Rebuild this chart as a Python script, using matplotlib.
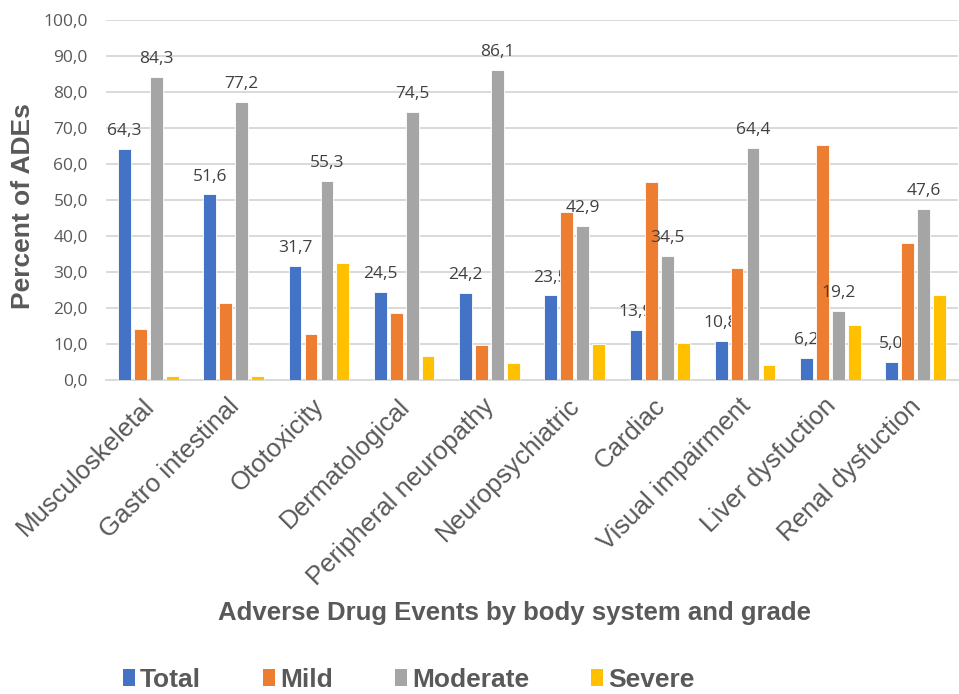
import numpy as np
import matplotlib.pyplot as plt
from matplotlib.patches import Patch

plt.rcParams['font.family'] = ['Liberation Sans', 'DejaVu Sans']

categories = ["Musculoskeletal", "Gastro intestinal", "Ototoxicity", "Dermatological",
              "Peripheral neuropathy", "Neuropsychiatric", "Cardiac", "Visual impairment",
              "Liver dysfuction", "Renal dysfuction"]
total = [64.3, 51.6, 31.7, 24.5, 24.2, 23.5, 13.9, 10.8, 6.2, 5.0]
mild = [14.1, 21.3, 12.8, 18.5, 9.7, 46.8, 55.1, 31.0, 65.3, 38.0]
moderate = [84.3, 77.2, 55.3, 74.5, 86.1, 42.9, 34.5, 64.4, 19.2, 47.6]
severe = [1.2, 1.1, 32.4, 6.7, 4.7, 10.0, 10.2, 4.2, 15.2, 23.6]
yticks = [0, 10, 20, 30, 40, 50, 60, 70, 80, 90, 100]

series = [("Total", total, "#4472C4"), ("Mild", mild, "#ED7D31"),
          ("Moderate", moderate, "#A5A5A5"), ("Severe", severe, "#FFC000")]
grey = "#595959"
numfont = ["Open Sans", "DejaVu Sans"]

fig = plt.figure(figsize=(9.59, 6.94), dpi=100)
ax = fig.add_axes([0.1105, 0.4524, 0.8885, 0.5188])

x = np.arange(len(categories))
slot = 0.187
width = 0.15
for i, (name, vals, col) in enumerate(series):
    pos = x + (i - 1.5) * slot
    ax.bar(pos, vals, width=width, color=col, edgecolor="white", linewidth=0.6, zorder=3)
    if name in ("Total", "Moderate"):
        for px, v in zip(pos, vals):
            ax.annotate(f"{v:.1f}".replace(".", ","), (px, v), xytext=(0, 7),
                        textcoords="offset points", ha="center", va="bottom",
                        fontsize=12.5, color="#404040", family=numfont)

ax.set_xlim(-0.5, len(categories) - 0.5)
ax.set_ylim(0, 100)
ax.set_yticks(yticks)
ax.set_yticklabels([f"{v:.1f}".replace(".", ",") for v in yticks], fontsize=12.5,
                   color=grey, family=numfont)
# labels sit a little left of the group centre, as in the original
ax.set_xticks(x - 0.08)
ax.set_xticklabels(categories, rotation=45, ha="right", rotation_mode="anchor",
                   fontsize=18.5, color=grey)
ax.tick_params(length=0)
ax.tick_params(axis="x", pad=10)
ax.tick_params(axis="y", pad=13)
ax.grid(axis="y", color="#d9d9d9", linewidth=1.4, zorder=0)
for s in ["top", "right", "left"]:
    ax.spines[s].set_visible(False)
ax.spines["bottom"].set_color("#d9d9d9")
ax.spines["bottom"].set_linewidth(1.4)

fig.text(0.024, 0.703, "Percent of ADEs", rotation=90, ha="center", va="center",
         fontsize=19, fontweight="bold", color=grey)
fig.text(0.536, 0.117, "Adverse Drug Events by body system and grade", ha="center",
         va="center", fontsize=18.5, fontweight="bold", color=grey)

handles = [Patch(facecolor=c, label=n) for n, _, c in series]
leg = fig.legend(handles=handles, loc="center", bbox_to_anchor=(0.4265, 0.02), ncol=4,
                 frameon=False, handlelength=0.45, handleheight=0.6, handletextpad=0.2,
                 columnspacing=2.35, prop={"size": 19, "weight": "bold"})
for t in leg.get_texts():
    t.set_color(grey)

fig.savefig("out.png", dpi=100)
